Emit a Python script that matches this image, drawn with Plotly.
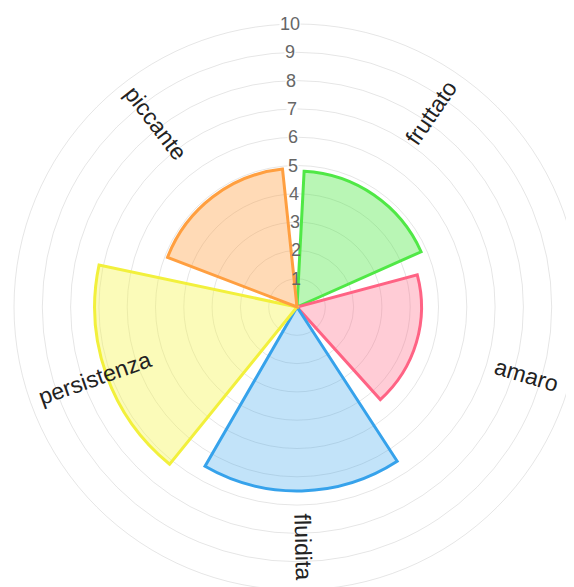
import math
import plotly.graph_objects as go

# ---- data ----
categories = ["fruttato", "amaro", "fluidita", "persistenza", "piccante"]
values = [4.8, 4.4, 6.5, 7.15, 4.9]
line_colors = ["rgb(80,232,70)", "rgb(255,99,132)", "rgb(54,162,235)",
               "rgb(242,240,60)", "rgb(255,159,64)"]
fill_colors = ["rgba(80,232,70,0.4)", "rgba(255,99,132,0.33)", "rgba(54,162,235,0.3)",
               "rgba(245,245,80,0.4)", "rgba(255,159,64,0.38)"]
radial_ticks = list(range(1, 11))
r_max = 10

# ---- layout geometry (pixels) ----
W, H = 600, 620
OX, OY = 8, 8          # page offset of the plot div (body margin)
CXs, CYs, R = 297, 307, 283   # centre / radius on screen
CX, CY = CXs - OX, CYs - OY
TILT = -1.5            # whole chart rotated slightly (deg, clockwise positive)
SECTOR = 360 / len(categories)


def to_paper(x, y):
    return x / W, 1 - y / H


fig = go.Figure()
fig.add_trace(go.Barpolar(
    r=values,
    theta=categories,
    width=[0.875] * len(categories),
    marker=dict(color=fill_colors, line=dict(color=line_colors, width=3)),
    hoverinfo="skip",
    showlegend=False,
))

annotations = []
# radial tick labels
for t in radial_ticks:
    rr = t / r_max * R
    a = math.radians(TILT)
    x = CX + rr * math.sin(a)
    y = CY - rr * math.cos(a)
    px, py = to_paper(x, y)
    annotations.append(dict(
        x=px, y=py, xref="paper", yref="paper", text=str(t), showarrow=False,
        xanchor="center", yanchor="middle",
        font=dict(family="Liberation Sans, Arial, sans-serif", size=18, color="#666666"),
        bgcolor="white" if t >= 5 else "rgba(0,0,0,0)", borderpad=0,
    ))

# category labels (radial orientation)
label_r = [236, 239, 240, 214, 232]
for i, (cat, lr) in enumerate(zip(categories, label_r)):
    ang = SECTOR / 2 + SECTOR * i + TILT
    a = math.radians(ang)
    x = CX + lr * math.sin(a)
    y = CY - lr * math.cos(a)
    px, py = to_paper(x, y)
    ta = ang - 90
    if ang > 180:
        ta -= 180
    annotations.append(dict(
        x=px, y=py, xref="paper", yref="paper", text=cat, showarrow=False,
        xanchor="center", yanchor="middle", textangle=ta,
        font=dict(family="Liberation Sans, Arial, sans-serif", size=23, color="#222222"),
    ))

dx0, dy0 = to_paper(CX - R, CY + R)
dx1, dy1 = to_paper(CX + R, CY - R)

fig.update_layout(
    width=W, height=H,
    margin=dict(l=0, r=0, t=0, b=0),
    paper_bgcolor="white",
    showlegend=False,
    polar=dict(
        domain=dict(x=[dx0, dx1], y=[dy0, dy1]),
        bgcolor="white",
        radialaxis=dict(range=[0, r_max], tickvals=radial_ticks, showticklabels=False,
                        ticks="", showline=False, gridcolor="rgba(0,0,0,0.1)", gridwidth=1),
        angularaxis=dict(rotation=90 - (SECTOR / 2 + TILT), direction="clockwise",
                         showticklabels=False, ticks="", showgrid=False,
                         showline=True, linecolor="rgba(0,0,0,0.1)", linewidth=1),
    ),
    annotations=annotations,
)

fig.write_html("out.html")
